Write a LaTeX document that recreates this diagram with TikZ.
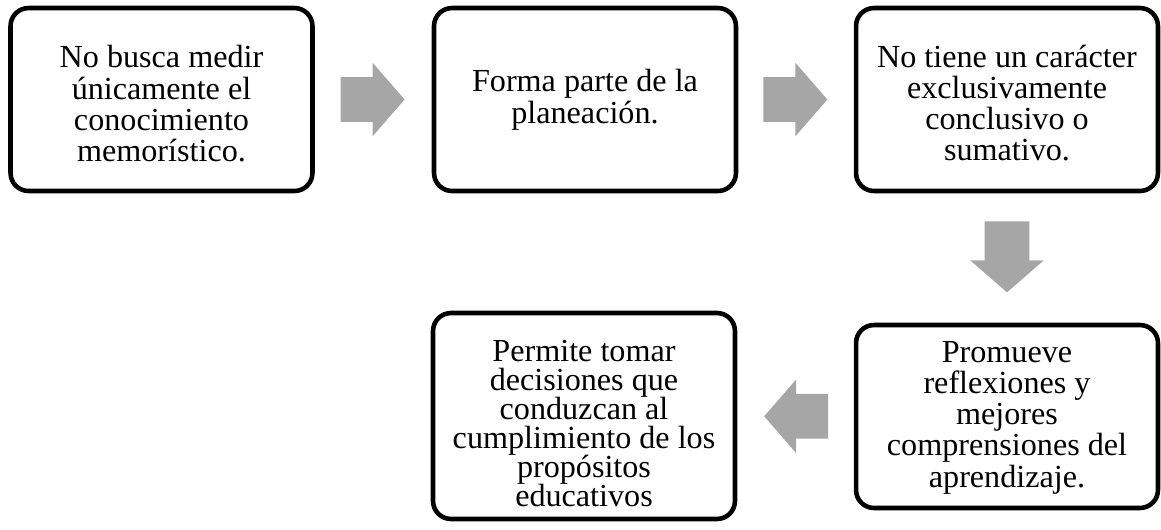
\documentclass[tikz,border=0pt]{standalone}
\usepackage{fontspec}
\setmainfont{Liberation Serif}
\usepackage{tikz}
\usetikzlibrary{calc,shapes.arrows}
\definecolor{arrowgray}{RGB}{166,166,166}
\newcommand{\sube}[1]{\rule{0pt}{#1}}
\newcommand{\baja}{\rule[-4.6pt]{0pt}{4.6pt}}
\newcommand{\boxfont}[1]{\fontsize{18.3}{#1}\selectfont\lineskiplimit=-72pt\relax}

\begin{document}
\begin{tikzpicture}[x=0.02cm,y=-0.02cm,
        box/.style={draw=black, line width=2.6pt, rounded corners=0.36cm,
            minimum width=6.04cm, minimum height=3.66cm, align=center,
            inner sep=0pt, font=\boxfont{17.8}},
        flecha/.style={single arrow, fill=arrowgray, draw=none, anchor=tail,
            inner xsep=0pt, inner ysep=0.44cm, minimum width=0pt,
            minimum height=1.28cm,
            single arrow head extend=0.29cm, single arrow tip angle=98}]
    \useasboundingbox (0,0) rectangle (1161,529);
    \node[box] (b1) at (161.5,99.5) {\sube{22.1pt}No busca medir\\únicamente el\\conocimiento\\memorístico.\baja};
    \node[box] (b2) at (585,99.5) {\sube{13.8pt}Forma parte de la\\planeación.\baja};
    \node[box] (b3) at (1007,99.5) {\sube{21pt}No tiene un carácter\\exclusivamente\\conclusivo o\\sumativo.\baja};
    \node[box] (b4) at (1007,416.5) {\sube{13.8pt}Promueve\\reflexiones y\\mejores\\comprensiones del\\aprendizaje.\baja};
    \node[box, minimum height=4.12cm, font=\boxfont{16.5}] (b5) at (584,416)
        {\sube{25.6pt}Permite tomar\\decisiones que\\conduzcan al\\cumplimiento de los\\propósitos\\educativos\baja};
    \node[flecha] (f12) at ($(b1.east)!0.5!(b2.west)+(-33,0)$) {};
    \node[flecha] (f23) at ($(b2.east)!0.5!(b3.west)+(-33,0)$) {};
    \node[flecha, rotate=-90, minimum height=1.42cm] (f34) at ($(b3.south)!0.5!(b4.north)+(0,-37)$) {};
    \node[flecha, rotate=180] (f45) at ($(b4.west)!0.5!(b5.east)+(33,0)$) {};
\end{tikzpicture}
\end{document}
